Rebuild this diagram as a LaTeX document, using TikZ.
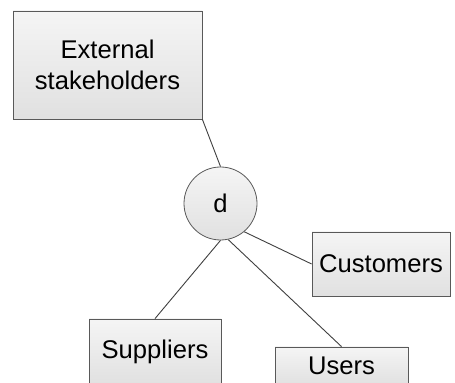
\documentclass[tikz,border=0pt]{standalone}
\usepackage{fontspec}
\setmainfont{Liberation Sans}
\usetikzlibrary{positioning,shadows}

\begin{document}
\begin{tikzpicture}[x=0.5pt,y=-0.5pt,
    font=\fontsize{12.8}{15.2}\selectfont,
    entbox/.style={draw=black!65, top color=black!4, bottom color=black!12,
      inner sep=0pt, align=center,
      drop shadow={shadow xshift=0.6pt, shadow yshift=-0.6pt, fill=black!45, opacity=1}},
    hubnode/.style={circle, draw=black!65, top color=black!4, bottom color=black!12,
      inner sep=0pt, minimum size=36.5pt},
    link/.style={draw=black!75, line width=0.45pt}]
    \useasboundingbox (0,0) rectangle (455,383);
    \fill[white] (0,0) rectangle (455,383);
    \def\px{0.5pt}
    % stakeholder boxes
    \node[entbox, minimum width=189*\px, minimum height=108*\px] (ext) at (107.5,65) {External\\stakeholders};
    \node[hubnode] (d) at (220.5,203.5) {d};
    \node[entbox, minimum width=138*\px, minimum height=64*\px] (cust) at (381,264) {Customers};
    \node[entbox, minimum width=132*\px, minimum height=66*\px] (sup) at (155,352) {Suppliers};
    \node[entbox, minimum width=133*\px, minimum height=38*\px] (usr) at (341.5,366) {Users};
    % links to the hub
    \draw[link] (ext.south east) -- (d.north);
    \draw[link] (d.-90) -- (sup.north);
    \draw[link] (d.-78) -- (usr.north);
    \draw[link] (d.-50) -- (cust.west);
\end{tikzpicture}
\end{document}
